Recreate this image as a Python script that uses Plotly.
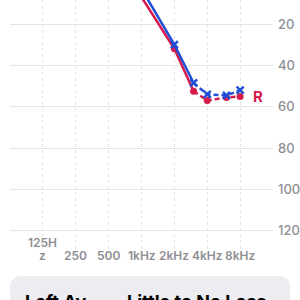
import math
import plotly.graph_objects as go

# ---- data ----
freqs = [1000, 2000, 3000, 4000, 6000, 8000]
left_db = [3, 30, 48.5, 54, 54.5, 52]      # blue X
right_db = [7, 32, 52.5, 57, 55.5, 55]     # red O
solid_upto = 2   # index where dashed part begins
tick_freqs = [125, 250, 500, 1000, 2000, 4000, 8000]
tick_labels = ["125H\nz", "250", "500", "1kHz", "2kHz", "4kHz", "8kHz"]
grid_freqs = [62.5, 125, 250, 500, 1000, 2000, 4000, 8000, 16000]
db_ticks = [20, 40, 60, 80, 100, 120]
ear_label = "R"
card_left = "Left Av"
card_right = "Little to No Loss"

BLUE = "#1f4fd6"
RED = "#d61a4b"
GRAY = "#8e8e93"
GRID = "#e4e4e9"

W, H = 300, 300
L, R, T, B = 10, 27, 0, 43
PW, PH = W - L - R, H - T - B


def px(x):
    return (x - L) / PW


def py(y):
    return (H - B - y) / PH


fig = go.Figure()

for vals, col, sym, msize in [(right_db, RED, "circle", 7), (left_db, BLUE, "x-thin", 7)]:
    fig.add_trace(go.Scatter(x=freqs[:solid_upto + 1], y=vals[:solid_upto + 1], mode="lines",
                             line=dict(color=col, width=2.5), hoverinfo="skip", showlegend=False))
    fig.add_trace(go.Scatter(x=freqs[solid_upto:], y=vals[solid_upto:], mode="lines",
                             line=dict(color=col, width=2.5, dash="5px,3px"), hoverinfo="skip",
                             showlegend=False))
    mk = dict(color=col, size=msize, symbol=sym)
    if sym == "x-thin":
        mk["line"] = dict(color=col, width=2.5)
    fig.add_trace(go.Scatter(x=freqs[1:], y=vals[1:], mode="markers", marker=mk,
                             hoverinfo="skip", showlegend=False))

# x tick labels (inside plot area, bottom)
for f, lab in zip(tick_freqs, tick_labels):
    lines = lab.split("\n")
    for i, ln in enumerate(reversed(lines)):
        fig.add_annotation(x=math.log10(f), xref="x", y=py(255), yref="paper", text=ln,
                           showarrow=False, xanchor="center", yanchor="middle", yshift=13 * i,
                           font=dict(family="Inter", size=12, color=GRAY, weight=600))

# ear label
fig.add_annotation(x=math.log10(freqs[-1]), xref="x", y=right_db[-1], yref="y", text=ear_label,
                   showarrow=False, xanchor="center", yanchor="middle", xshift=18,
                   font=dict(family="Inter", size=15, color=RED, weight=700))

# bottom card
x0, x1, y0, y1, r = 10, 290, 276, 330, 12
path = (f"M {px(x0)},{py(y0 + r)} Q {px(x0)},{py(y0)} {px(x0 + r)},{py(y0)} "
        f"L {px(x1 - r)},{py(y0)} Q {px(x1)},{py(y0)} {px(x1)},{py(y0 + r)} "
        f"L {px(x1)},{py(y1)} L {px(x0)},{py(y1)} Z")
fig.add_shape(type="path", path=path, xref="paper", yref="paper",
              fillcolor="#ececf1", line=dict(width=0), layer="below")
fig.add_annotation(x=px(23), xref="paper", y=py(289), yref="paper", text=card_left,
                   showarrow=False, xanchor="left", yanchor="top",
                   font=dict(family="Inter", size=18, color="#000000", weight=700))
fig.add_annotation(x=px(125), xref="paper", y=py(289), yref="paper", text=card_right,
                   showarrow=False, xanchor="left", yanchor="top",
                   font=dict(family="Inter", size=18, color="#000000", weight=700))

fig.update_layout(
    width=W, height=H, margin=dict(l=L, r=R, t=T, b=B),
    paper_bgcolor="white", plot_bgcolor="white",
    xaxis=dict(type="log", range=[math.log10(62.5), math.log10(16000)],
               tickvals=grid_freqs, showticklabels=False, showgrid=True,
               gridcolor=GRID, griddash="3px,3px", gridwidth=1, zeroline=False,
               showline=False, ticks=""),
    yaxis=dict(range=[132.6, 8.4], side="right", tickvals=db_ticks,
               ticktext=[str(v) for v in db_ticks], showgrid=True, gridcolor=GRID,
               gridwidth=1, zeroline=False, showline=False, ticks="",
               ticklabelstandoff=4,
               tickfont=dict(family="Inter", size=13, color=GRAY, weight=500)),
)

fig.write_html("out.html")
